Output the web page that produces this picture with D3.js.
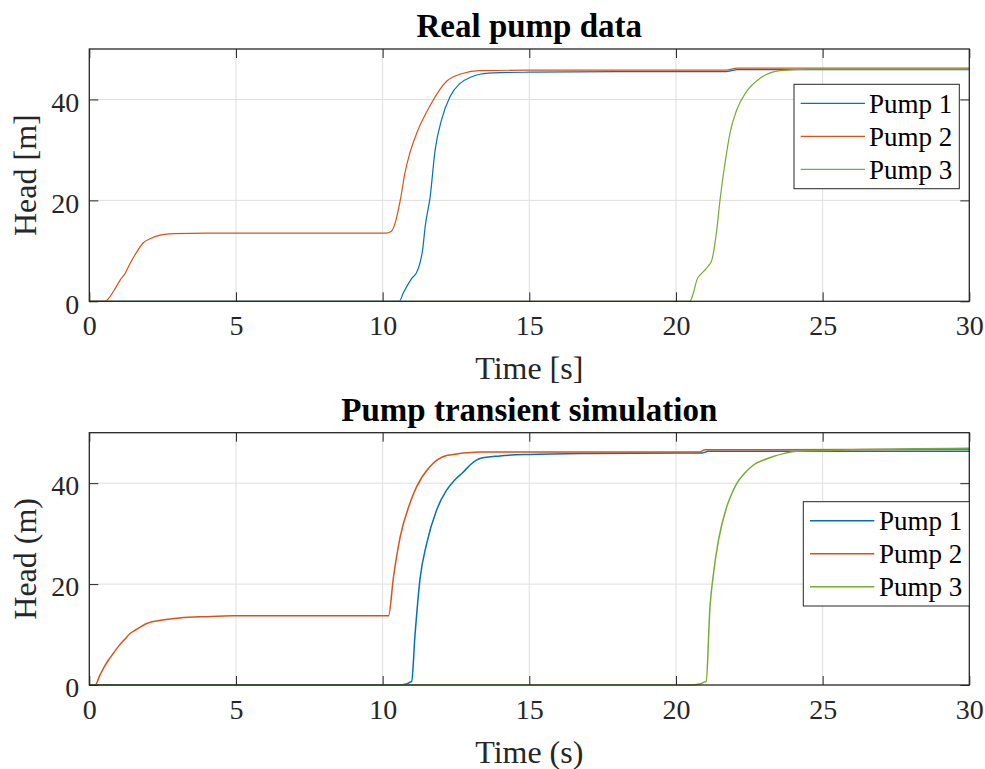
<!DOCTYPE html>
<html>
<head>
<meta charset="utf-8">
<script src="https://cdn.jsdelivr.net/npm/d3@7"></script>
<style>
  html, body { margin: 0; padding: 0; background: #fff; }
  svg { display: block; font-family: "Liberation Serif", "Times New Roman", serif; }
</style>
</head>
<body>
<svg id="chart" width="985" height="769"></svg>
<script>
// Axis settings shared by both panels
const xTicks = [0, 5, 10, 15, 20, 25, 30];
const yTicks = [0, 20, 40];
const seriesNames = ["Pump 1", "Pump 2", "Pump 3"];
const seriesColors = ["#0072BD", "#D95319", "#77AC30"];

// Measured heads (top panel)
const realTime1 = [0, 10.57, 10.7, 10.88, 11.0, 11.15, 11.27, 11.37, 11.45, 11.62, 11.79, 12.01, 12.3, 12.64, 13.0, 13.32, 14.0, 15.0, 18.0, 21.7, 22.1, 22.5, 30];
const realHead1 = [0, 0, 1.6, 3.5, 4.6, 5.6, 7.5, 10.5, 14.8, 20.7, 30, 36, 40.6, 43.2, 44.4, 45.0, 45.3, 45.4, 45.5, 45.5, 45.9, 45.9, 45.9];
const realTime2 = [0, 0.53, 0.7, 0.88, 1.05, 1.22, 1.39, 1.62, 1.84, 2.07, 2.41, 2.86, 4, 10.1, 10.3, 10.42, 10.6, 10.76, 10.93, 11.16, 11.6, 12.18, 12.75, 13.3, 15, 21.7, 22.1, 30];
const realHead2 = [0, 0, 0.9, 2.5, 4.2, 5.5, 7.5, 9.8, 11.6, 12.4, 13.1, 13.4, 13.5, 13.5, 13.9, 15.4, 20, 25.4, 29.4, 33.3, 38.6, 43.6, 45.2, 45.7, 45.8, 45.8, 46.2, 46.2];
const realTime3 = [0, 20.47, 20.6, 20.71, 20.85, 20.99, 21.1, 21.22, 21.39, 21.5, 21.67, 21.84, 22.07, 22.41, 22.87, 23.55, 24.5, 30];
const realHead3 = [0, 0, 1.8, 4.2, 5.4, 6.2, 7.0, 8.1, 14.1, 20, 27.3, 33.3, 37.9, 41.6, 44.2, 45.7, 46.0, 46.0];

// Simulated heads (bottom panel)
const simTime1 = [0, 10.65, 10.99, 11.1, 11.27, 11.5, 11.84, 12.18, 12.45, 12.75, 13.0, 13.32, 14.0, 15.03, 17, 20.14, 20.9, 21.1, 30];
const simHead1 = [0, 0, 0.7, 9.6, 20.8, 28, 34.7, 38.6, 40.6, 42.2, 43.7, 44.9, 45.4, 45.7, 45.9, 46.0, 46.0, 46.3, 46.3];
const simTime2 = [0, 0.2, 0.35, 0.5, 0.65, 0.82, 1.0, 1.2, 1.39, 1.6, 1.96, 2.5, 3.09, 4.0, 4.9, 10.2, 10.37, 10.6, 10.93, 11.16, 11.6, 12.18, 13.3, 15, 20.8, 21.0, 30];
const simHead2 = [0, 0, 1.8, 3.5, 4.9, 6.3, 7.7, 9.0, 10.2, 11.0, 12.2, 12.9, 13.3, 13.55, 13.7, 13.7, 21.4, 29.4, 36, 39.3, 43.2, 45.5, 46.2, 46.2, 46.2, 46.6, 46.7];
const simTime3 = [0, 20.6, 21.03, 21.16, 21.28, 21.45, 21.73, 21.9, 22.07, 22.35, 22.64, 22.95, 23.32, 23.7, 24.12, 26, 30];
const simHead3 = [0, 0, 0.7, 15.5, 22.1, 28.7, 35.3, 37.9, 39.9, 42.0, 43.6, 44.5, 45.3, 45.9, 46.3, 46.6, 46.9];

const svg = d3.select("#chart");
const axisColor = "#262626";

function panel(opts) {
  const { top, title, xLabel, yLabel, series, legend, lineWidth } = opts;
  const left = 89.3, right = 969.3, height = 252.3;
  const x = d3.scaleLinear().domain([0, 30]).range([left, right]);
  const y = d3.scaleLinear().domain([0, 50]).range([top + height, top]);
  const g = svg.append("g");

  // grid
  g.append("g").selectAll("line").data(xTicks.slice(1, -1)).join("line")
    .attr("x1", d => x(d)).attr("x2", d => x(d))
    .attr("y1", y(0)).attr("y2", y(50))
    .attr("stroke", "#dfdfdf").attr("stroke-width", 1);
  g.append("g").selectAll("line").data(yTicks.slice(1)).join("line")
    .attr("x1", left).attr("x2", right)
    .attr("y1", d => y(d)).attr("y2", d => y(d))
    .attr("stroke", "#dfdfdf").attr("stroke-width", 1);

  // lines
  const line = d3.line().x(d => x(d[0])).y(d => y(d[1])).curve(d3.curveMonotoneX);
  series.forEach((s, i) => {
    const pts = s.t.map((t, k) => [t, s.v[k]]);
    g.append("path").datum(pts)
      .attr("d", line)
      .attr("fill", "none")
      .attr("stroke", seriesColors[i])
      .attr("stroke-width", lineWidth)
      .attr("stroke-linejoin", "round");
  });

  // axes (ticks inside, box on)
  const tickLen = 9;
  const xb = d3.axisBottom(x).tickValues(xTicks).tickSizeInner(-tickLen).tickSizeOuter(0).tickPadding(14).tickFormat(d3.format("d"));
  const xt = d3.axisTop(x).tickValues(xTicks).tickSizeInner(-tickLen).tickSizeOuter(0).tickFormat("");
  const yl = d3.axisLeft(y).tickValues(yTicks).tickSizeInner(-tickLen).tickSizeOuter(0).tickPadding(10).tickFormat(d3.format("d"));
  const yr = d3.axisRight(y).tickValues(yTicks).tickSizeInner(-tickLen).tickSizeOuter(0).tickFormat("");

  const styleAxis = sel => {
    sel.select(".domain").remove();
    sel.selectAll(".tick line").attr("stroke", axisColor).attr("stroke-width", 1);
    sel.selectAll(".tick text").attr("fill", axisColor).attr("font-size", 28)
      .attr("font-family", "Liberation Serif, serif");
  };
  g.append("g").attr("transform", `translate(0,${y(0)})`).call(xb).call(styleAxis)
    .selectAll(".tick text").attr("dy", "0.71em").attr("y", 14);
  g.append("g").attr("transform", `translate(0,${y(50)})`).call(xt).call(styleAxis);
  g.append("g").attr("transform", `translate(${left},0)`).call(yl).call(styleAxis)
    .selectAll(".tick text").attr("dy", "0.42em");
  g.append("g").attr("transform", `translate(${right},0)`).call(yr).call(styleAxis);

  g.append("rect").attr("x", left).attr("y", top).attr("width", right - left).attr("height", height)
    .attr("fill", "none").attr("stroke", axisColor).attr("stroke-width", 1.3);

  // titles and labels
  g.append("text").attr("x", (left + right) / 2).attr("y", top - 12)
    .attr("text-anchor", "middle").attr("font-weight", "bold").attr("font-size", 33)
    .attr("fill", "#000").text(title);
  g.append("text").attr("x", (left + right) / 2).attr("y", top + height + 78)
    .attr("text-anchor", "middle").attr("font-size", 32).attr("fill", axisColor).text(xLabel);
  g.append("text").attr("transform", `translate(36,${top + height / 2}) rotate(-90)`)
    .attr("text-anchor", "middle").attr("font-size", 32).attr("fill", axisColor).text(yLabel);

  // legend
  const lg = g.append("g");
  lg.append("rect").attr("x", legend.x0).attr("y", legend.y0)
    .attr("width", legend.x1 - legend.x0).attr("height", legend.y1 - legend.y0)
    .attr("fill", "#fff").attr("stroke", axisColor).attr("stroke-width", 1);
  seriesNames.forEach((name, i) => {
    const cy = legend.rowY + i * legend.rowGap;
    lg.append("line").attr("x1", legend.lx0).attr("x2", legend.lx1)
      .attr("y1", cy).attr("y2", cy)
      .attr("stroke", seriesColors[i]).attr("stroke-width", lineWidth);
    lg.append("text").attr("x", legend.tx).attr("y", cy).attr("dy", "0.35em")
      .attr("font-size", 27).attr("fill", "#000").text(name);
  });
}

panel({
  top: 49, title: "Real pump data", xLabel: "Time [s]", yLabel: "Head [m]", lineWidth: 1.2,
  series: [
    { t: realTime1, v: realHead1 },
    { t: realTime2, v: realHead2 },
    { t: realTime3, v: realHead3 }
  ],
  legend: { x0: 794, y0: 84.3, x1: 959.3, y1: 188.7, rowY: 103.3, rowGap: 33, lx0: 800.7, lx1: 865, tx: 869 }
});

panel({
  top: 432.7, title: "Pump transient simulation", xLabel: "Time (s)", yLabel: "Head (m)", lineWidth: 1.5,
  series: [
    { t: simTime1, v: simHead1 },
    { t: simTime2, v: simHead2 },
    { t: simTime3, v: simHead3 }
  ],
  legend: { x0: 803.3, y0: 501.7, x1: 969.3, y1: 606, rowY: 520.7, rowGap: 33, lx0: 810, lx1: 874.3, tx: 879 }
});
</script>
</body>
</html>
